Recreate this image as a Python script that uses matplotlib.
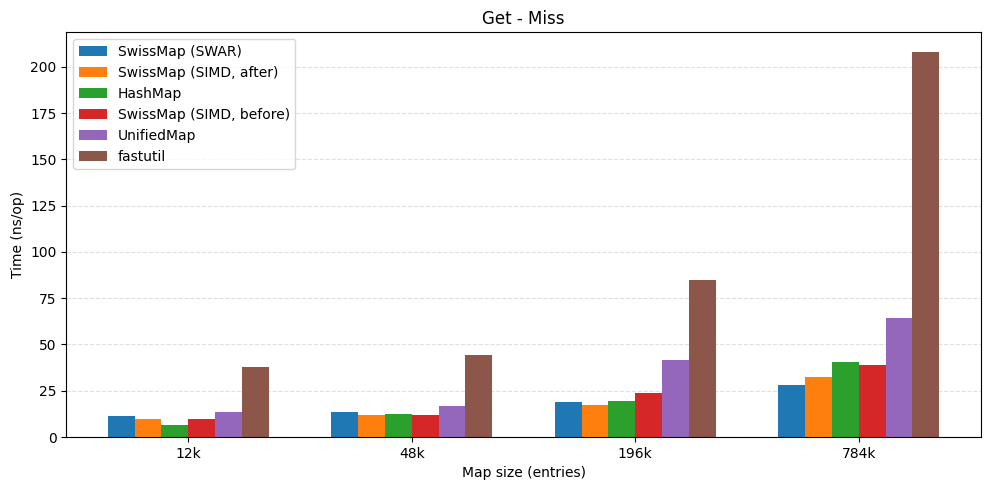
import matplotlib
matplotlib.use("Agg")
import matplotlib.pyplot as plt
import numpy as np

sizes = ["12k", "48k", "196k", "784k"]
series_names = ["SwissMap (SWAR)", "SwissMap (SIMD, after)", "HashMap",
                "SwissMap (SIMD, before)", "UnifiedMap", "fastutil"]
swar = [11.3, 13.5, 18.9, 28.0]
simd_after = [9.7, 11.9, 17.3, 32.4]
hashmap = [6.5, 12.4, 19.5, 40.5]
simd_before = [9.7, 11.9, 23.8, 38.8]
unified = [13.5, 16.8, 41.6, 64.2]
fastutil = [37.8, 44.3, 84.9, 208.1]

data = [swar, simd_after, hashmap, simd_before, unified, fastutil]

fig = plt.figure(figsize=(9.89, 4.9), dpi=100)
ax = fig.add_axes([66.3/989, 1-437/490, (980.7-66.3)/989, (437-32.5)/490])
x = np.arange(len(sizes))
w = 0.12
for i, (name, vals) in enumerate(zip(series_names, data)):
    ax.bar(x + (i - 2.5) * w, vals, w, label=name, color=f"C{i}")
ax.set_xticks(x)
ax.set_xticklabels(sizes)
ax.set_xlabel("Map size (entries)")
ax.set_ylabel("Time (ns/op)")
ax.set_title("Get - Miss")
ax.grid(axis="y", linestyle="--", alpha=0.4)
ax.set_axisbelow(True)
ax.legend(loc="upper left")
fig.savefig("out.png", dpi=100)
